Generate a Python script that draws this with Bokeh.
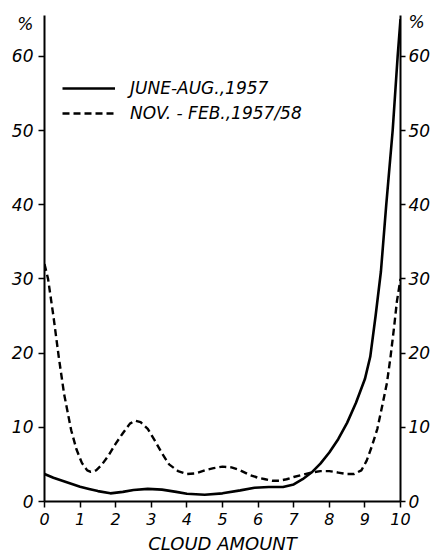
from bokeh.plotting import figure
from bokeh.models import (Range1d, LinearAxis, FixedTicker, Legend, LegendItem)
from bokeh.embed import file_html
from bokeh.resources import INLINE

# ---- data ----
summer_x = [0, 0.25, 0.5, 0.75, 1.0, 1.25, 1.5, 1.85, 2.2, 2.5, 2.9, 3.3, 3.7, 4.0,
            4.5, 5.0, 5.5, 5.9, 6.3, 6.7, 7.0, 7.25, 7.5, 7.75, 8.0, 8.25, 8.5, 8.75,
            9.0, 9.15, 9.3, 9.45, 9.6, 9.78, 9.92, 10.0]
summer_y = [3.7, 3.2, 2.8, 2.4, 2.0, 1.7, 1.4, 1.1, 1.3, 1.55, 1.7, 1.6, 1.3, 1.05,
            0.9, 1.1, 1.5, 1.85, 1.95, 1.95, 2.3, 3.0, 3.9, 5.1, 6.6, 8.4, 10.6, 13.3,
            16.5, 19.5, 25, 31, 40, 50, 60, 65]

winter_x = [0, 0.1, 0.25, 0.4, 0.55, 0.75, 0.9, 1.05, 1.2, 1.3, 1.45, 1.6, 1.8, 2.0,
            2.2, 2.4, 2.55, 2.7, 2.9, 3.1, 3.3, 3.5, 3.75, 4.0, 4.25, 4.5, 4.75, 5.0,
            5.25, 5.5, 5.75, 6.0, 6.2, 6.4, 6.6, 6.8, 7.0, 7.25, 7.5, 7.75, 8.0, 8.25,
            8.5, 8.7, 8.9, 9.05, 9.2, 9.35, 9.5, 9.62, 9.72, 9.82, 9.9, 10.0]
winter_y = [32, 30, 25, 19.5, 14.5, 9.6, 7.0, 5.2, 4.2, 4.0, 4.2, 4.9, 6.2, 7.8,
            9.2, 10.5, 10.9, 10.7, 9.8, 8.2, 6.5, 5.0, 4.1, 3.7, 3.8, 4.2, 4.5, 4.7,
            4.6, 4.2, 3.6, 3.2, 3.0, 2.8, 2.8, 3.0, 3.3, 3.6, 3.9, 4.1, 4.1, 3.9,
            3.7, 3.7, 4.2, 5.5, 7.5, 9.8, 13.2, 16, 19.5, 23.5, 27, 30]

series_labels = ["JUNE-AUG.,1957", "NOV. - FEB.,1957/58"]
x_ticks = list(range(0, 11))
y_ticks = [0, 10, 20, 30, 40, 50, 60]
x_title = "CLOUD AMOUNT"
y_unit = "%"
unit_pos_left = 64.3
unit_pos_right = 64.6

FONT = "DejaVu Sans"

p = figure(width=433, height=556, output_backend="svg", toolbar_location=None,
           x_range=Range1d(0, 10), y_range=Range1d(0, 65.5),
           min_border_left=44, min_border_right=33, min_border_top=15,
           min_border_bottom=55)
p.outline_line_color = None
p.xgrid.visible = False
p.ygrid.visible = False
p.background_fill_color = "white"
p.border_fill_color = "white"

r1 = p.line(summer_x, summer_y, line_color="black", line_width=2.6)
r2 = p.line(winter_x, winter_y, line_color="black", line_width=2.4, line_dash="7 4")

def style_axis(ax, size):
    ax.axis_line_width = 2
    ax.axis_line_color = "black"
    ax.major_tick_line_width = 1.5
    ax.major_tick_in = 0
    ax.minor_tick_line_color = None
    ax.major_label_text_font = FONT
    ax.major_label_text_font_style = "italic"
    ax.major_label_text_font_size = size
    ax.major_label_text_color = "black"

xa = p.xaxis[0]
xa.ticker = FixedTicker(ticks=x_ticks)
style_axis(xa, "16px")
xa.major_tick_out = 6
xa.major_label_standoff = 5
xa.axis_label = x_title
xa.axis_label_text_font = FONT
xa.axis_label_text_font_style = "italic"
xa.axis_label_text_font_size = "18px"
xa.axis_label_standoff = 5
xa.axis_label_text_color = "black"

def style_y(ax, unit_pos, tick_out, standoff):
    # tick marks drawn as minor ticks so the unit label gets no mark
    ax.ticker = FixedTicker(ticks=y_ticks + [unit_pos], minor_ticks=y_ticks)
    style_axis(ax, "17px")
    ax.major_tick_line_color = None
    ax.major_tick_out = tick_out
    ax.minor_tick_line_color = "black"
    ax.minor_tick_line_width = 1.5
    ax.minor_tick_out = tick_out
    ax.minor_tick_in = 0
    ax.major_label_standoff = standoff
    ax.major_label_overrides = {unit_pos: y_unit}

style_y(p.yaxis[0], unit_pos_left, 6, 5)

ra = LinearAxis()
style_y(ra, unit_pos_right, 5, 3)
p.add_layout(ra, "right")

legend = Legend(items=[LegendItem(label=series_labels[0], renderers=[r1]),
                       LegendItem(label=series_labels[1], renderers=[r2])],
                location=(18, 378), glyph_width=53, glyph_height=20,
                label_height=20, spacing=5, padding=0, margin=0,
                label_standoff=15, border_line_alpha=0, background_fill_alpha=0,
                label_text_font=FONT, label_text_font_style="italic",
                label_text_font_size="17px", label_text_color="black")
p.add_layout(legend)

open("out.html", "w").write(file_html(p, INLINE))
